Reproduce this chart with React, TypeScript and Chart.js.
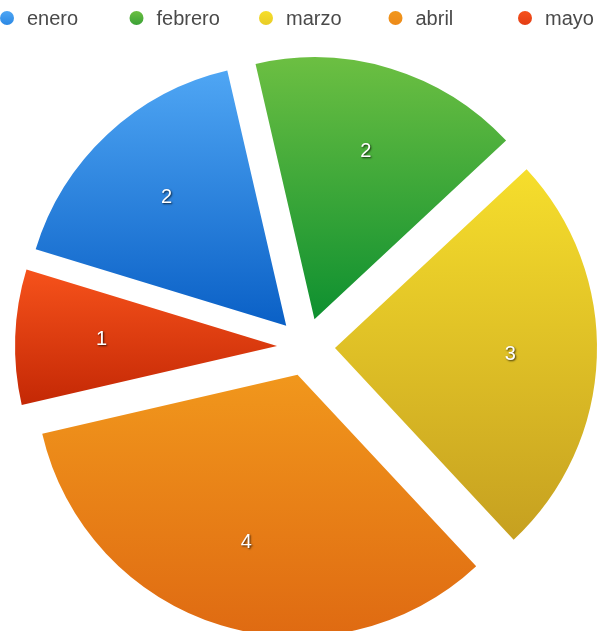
import { useEffect, useRef } from "react";
import { Chart, registerables } from "chart.js";

Chart.register(...registerables);

const categories = ["enero", "febrero", "marzo", "abril", "mayo"];
const values = [2, 2, 3, 4, 1];
const topColors = ["#4fa6f4", "#6cbf42", "#f6de2c", "#f1971c", "#f6521b"];
const bottomColors = ["#0a60c6", "#0e9030", "#c6a020", "#df6a12", "#c42805"];
const legendColors = ["#2b88e4", "#3aa136", "#e8cc26", "#ed8a19", "#e33d14"];

const EXPLODE = 29;
const ROTATION = -73;
const LEGEND_PITCH = 129.5;

function sliceAngles(index: number) {
  const total = values.reduce((a, b) => a + b, 0);
  let start = -Math.PI / 2 + (ROTATION * Math.PI) / 180;
  for (let i = 0; i < index; i++) start += (values[i] / total) * Math.PI * 2;
  const end = start + (values[index] / total) * Math.PI * 2;
  return { start, end };
}

function sliceYExtent(chart: any, index: number) {
  const a = chart.chartArea;
  const cy0 = (a.top + a.bottom) / 2;
  const r = Math.min(a.right - a.left, a.bottom - a.top) / 2;
  const { start, end } = sliceAngles(index);
  const mid = (start + end) / 2;
  const cy = cy0 + Math.sin(mid) * EXPLODE;
  let ymin = cy;
  let ymax = cy;
  const steps = 48;
  for (let k = 0; k <= steps; k++) {
    const t = start + ((end - start) * k) / steps;
    const y = cy + Math.sin(t) * r;
    ymin = Math.min(ymin, y);
    ymax = Math.max(ymax, y);
  }
  return { ymin, ymax };
}

const explodePlugin = {
  id: "explode",
  afterDatasetsUpdate(chart: any) {
    const a = chart.chartArea;
    const cx = (a.left + a.right) / 2;
    const cy = (a.top + a.bottom) / 2;
    const meta = chart.getDatasetMeta(0);
    meta.data.forEach((el: any) => {
      const mid = (el.startAngle + el.endAngle) / 2;
      el.x = cx + Math.cos(mid) * EXPLODE;
      el.y = cy + Math.sin(mid) * EXPLODE;
    });
  },
};

const labelPlugin = {
  id: "sliceLabels",
  afterDatasetsDraw(chart: any) {
    const ctx = chart.ctx;
    const meta = chart.getDatasetMeta(0);
    ctx.save();
    ctx.font = "20px 'Liberation Sans', Arial, sans-serif";
    ctx.textAlign = "center";
    ctx.textBaseline = "middle";
    ctx.fillStyle = "#ffffff";
    ctx.shadowColor = "rgba(0,0,0,0.75)";
    ctx.shadowOffsetX = 1;
    ctx.shadowOffsetY = 1;
    ctx.shadowBlur = 2;
    meta.data.forEach((el: any, i: number) => {
      const mid = (el.startAngle + el.endAngle) / 2;
      const d = el.outerRadius * 0.67;
      ctx.fillText(String(values[i]), el.x + Math.cos(mid) * d, el.y + Math.sin(mid) * d);
    });
    ctx.restore();
  },
};

const legendPlugin = {
  id: "evenLegend",
  afterDraw(chart: any) {
    const ctx = chart.ctx;
    ctx.save();
    ctx.font = "20px 'Liberation Sans', Arial, sans-serif";
    ctx.textBaseline = "middle";
    ctx.textAlign = "left";
    const y = 18;
    categories.forEach((label, i) => {
      const x = 7 + i * LEGEND_PITCH;
      const g = ctx.createLinearGradient(0, y - 7, 0, y + 7);
      g.addColorStop(0, topColors[i]);
      g.addColorStop(1, legendColors[i]);
      ctx.fillStyle = g;
      ctx.beginPath();
      ctx.arc(x, y, 7, 0, Math.PI * 2);
      ctx.fill();
      ctx.fillStyle = "#4a4a4a";
      ctx.fillText(label, x + 20, y + 1);
    });
    ctx.restore();
  },
};

export default function App() {
  const canvasRef = useRef<HTMLCanvasElement | null>(null);

  useEffect(() => {
    if (!canvasRef.current) return;
    const chart = new Chart(canvasRef.current, {
      type: "pie",
      data: {
        labels: categories,
        datasets: [
          {
            data: values,
            borderWidth: 0,
            backgroundColor: (context: any) => {
              const chart = context.chart;
              const i = context.dataIndex;
              if (!chart.chartArea || i === undefined) return topColors[i ?? 0];
              const { ymin, ymax } = sliceYExtent(chart, i);
              const g = chart.ctx.createLinearGradient(0, ymin, 0, ymax);
              g.addColorStop(0, topColors[i]);
              g.addColorStop(1, bottomColors[i]);
              return g;
            },
          },
        ],
      },
      options: {
        responsive: true,
        maintainAspectRatio: false,
        animation: false,
        events: [],
        rotation: ROTATION,
        layout: { padding: { top: 85, bottom: 22, left: 0, right: 0 } },
        plugins: {
          legend: { display: false },
          tooltip: { enabled: false },
        },
      },
      plugins: [explodePlugin, labelPlugin, legendPlugin],
    });
    return () => chart.destroy();
  }, []);

  return (
    <div style={{ position: "absolute", left: 0, top: 0, width: 612, height: 631 }}>
      <canvas ref={canvasRef} />
    </div>
  );
}
